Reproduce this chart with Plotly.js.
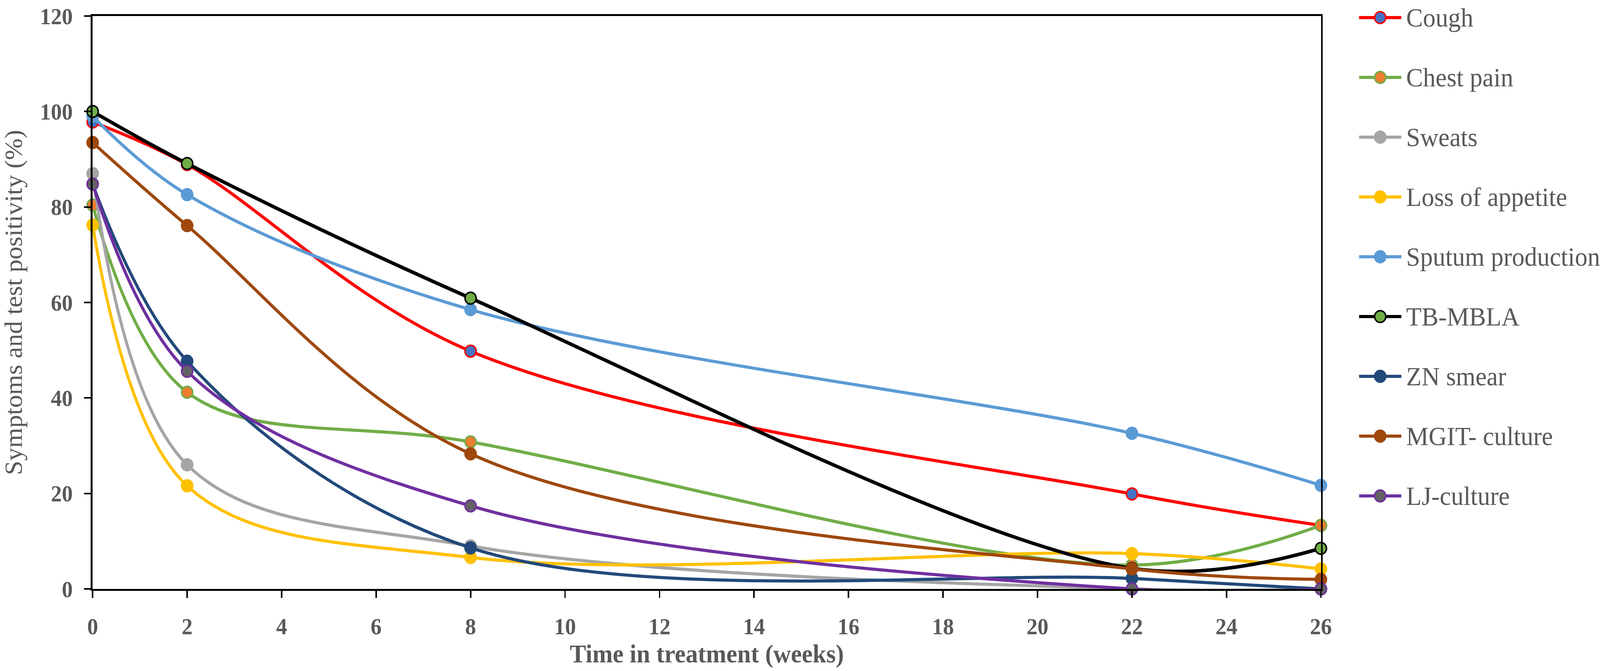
<!DOCTYPE html>
<html>
<head>
<meta charset="utf-8">
<script src="https://cdn.plot.ly/plotly-3.0.1.min.js"></script>
<style>
  html, body { margin: 0; padding: 0; background: #ffffff; overflow: hidden; }
  #grafica { width: 4317px; height: 1717px; transform-origin: 0 0; }
</style>
</head>
<body>
<div id="grafica"></div>
<script>
// Datos (porcentaje de pacientes por semana de tratamiento)

let weeks = [0, 2, 8, 22, 26];

let cough          = [97.8, 88.9, 49.8, 19.9, 13.3];
let chestPain      = [80.4, 41.2, 30.8, 5.0, 13.3];
let sweats         = [87.0, 26.0, 9.0, 0, 0];
let lossOfAppetite = [76.2, 21.6, 6.6, 7.4, 4.2];
let sputum         = [99.0, 82.6, 58.5, 32.6, 21.7];
let tbMbla         = [100, 89.1, 60.9, 4.3, 8.5];
let znSmear        = [84.8, 47.7, 8.6, 2.2, 0];
let mgitCulture    = [93.5, 76.1, 28.3, 4.2, 2.0];
let ljCulture      = [84.8, 45.6, 17.4, 0, 0];

let seriesNames = ['Cough', 'Chest pain', 'Sweats', 'Loss of appetite', 'Sputum production',
                   'TB-MBLA', 'ZN smear', 'MGIT- culture', 'LJ-culture'];
let seriesValues = [cough, chestPain, sweats, lossOfAppetite, sputum,
                    tbMbla, znSmear, mgitCulture, ljCulture];

let xTicks = [0, 2, 4, 6, 8, 10, 12, 14, 16, 18, 20, 22, 24, 26];
let yTicks = [0, 20, 40, 60, 80, 100, 120];


// Estilo de cada serie (colores de Excel)

let lineColors  = ['#FF0000', '#70AD47', '#A5A5A5', '#FFC000', '#5B9BD5',
                   '#000000', '#22497A', '#9E480E', '#7030A0'];
let markerFills = ['#4472C4', '#ED7D31', '#A5A5A5', '#FFC000', '#5B9BD5',
                   '#70AD47', '#22497A', '#9E480E', '#636363'];
let markerEdges = ['#FF0000', '#70AD47', '#A5A5A5', '#FFC000', '#5B9BD5',
                   '#000000', '#22497A', '#9E480E', '#7030A0'];


// Dimensiones (px) de la figura original

let ancho = 4317;
let alto  = 1717;
let margen = { l: 250, r: 753, t: 41, b: 210 };
let anchoPlot = ancho - margen.l - margen.r;
let altoPlot  = alto - margen.t - margen.b;

// la ventana real puede ser mas estrecha (4096): se comprime en horizontal
let escalaX = Math.min(1, window.innerWidth / ancho);
document.getElementById('grafica').style.transform = 'scale(' + escalaX + ', 1)';

let fuente = '"Liberation Serif", "Times New Roman", serif';
let gris = '#595959';

// pixel -> coordenada paper
let px2x = function (px) { return (px - margen.l) / anchoPlot; };
let px2y = function (py) { return (alto - margen.b - py) / altoPlot; };


// Trazas

let data = seriesNames.map(function (nombre, i) {
  return {
    x: weeks,
    y: seriesValues[i],
    name: nombre,
    type: 'scatter',
    mode: 'lines+markers',
    showlegend: false,
    line: { color: lineColors[i], width: i === 5 ? 9 : 8, shape: 'spline', smoothing: 1 },
    marker: { size: 30, color: markerFills[i], line: { color: markerEdges[i], width: 4 } },
    cliponaxis: false
  };
});


// Leyenda dibujada a mano (lineas largas como en Excel)

let leyendaTop = 45;
let leyendaPaso = 153;
let shapes = [];
let annotations = [];

seriesNames.forEach(function (nombre, i) {
  let yp = px2y(leyendaTop + i * leyendaPaso);
  shapes.push({
    type: 'line', xref: 'paper', yref: 'paper',
    x0: px2x(3667), x1: px2x(3781), y0: yp, y1: yp,
    line: { color: lineColors[i], width: 8 }
  });
  shapes.push({
    type: 'circle', xref: 'paper', yref: 'paper',
    xsizemode: 'pixel', ysizemode: 'pixel',
    xanchor: px2x(3724), yanchor: yp,
    x0: -15, x1: 15, y0: -15, y1: 15,
    fillcolor: markerFills[i],
    line: { color: markerEdges[i], width: 4 }
  });
  annotations.push({
    xref: 'paper', yref: 'paper',
    x: px2x(3792), y: yp,
    xanchor: 'left', yanchor: 'middle',
    text: nombre, showarrow: false,
    font: { family: fuente, size: 68, color: gris }
  });
});


let layout = {
  width: ancho,
  height: alto,
  margin: margen,
  paper_bgcolor: '#ffffff',
  plot_bgcolor: '#ffffff',
  showlegend: false,
  xaxis: {
    range: [0, 26],
    tickvals: xTicks,
    ticktext: xTicks.map(String),
    showgrid: false,
    zeroline: false,
    showline: true,
    mirror: true,
    linecolor: '#000000',
    linewidth: 5,
    ticks: 'outside',
    ticklen: 18,
    tickwidth: 4,
    tickcolor: '#000000',
    ticklabelstandoff: 22,
    tickfont: { family: fuente, size: 59, color: gris, weight: 'bold' },
    title: {
      text: 'Time in treatment (weeks)',
      standoff: 14,
      font: { family: fuente, size: 66, color: gris, weight: 'bold' }
    },
    automargin: false
  },
  yaxis: {
    range: [0, 120],
    tickvals: yTicks,
    ticktext: yTicks.map(String),
    showgrid: false,
    zeroline: false,
    showline: true,
    mirror: true,
    linecolor: '#000000',
    linewidth: 5,
    ticks: 'outside',
    ticklen: 18,
    tickwidth: 4,
    tickcolor: '#000000',
    ticklabelstandoff: 19,
    tickfont: { family: fuente, size: 59, color: gris, weight: 'bold' },
    title: {
      text: 'Symptoms and test positivity (%)',
      standoff: 30,
      font: { family: fuente, size: 66, color: gris }
    },
    automargin: false
  },
  shapes: shapes,
  annotations: annotations
};

let config = { responsive: false, displayModeBar: false, staticPlot: true };

Plotly.newPlot('grafica', data, layout, config);
</script>
</body>
</html>
